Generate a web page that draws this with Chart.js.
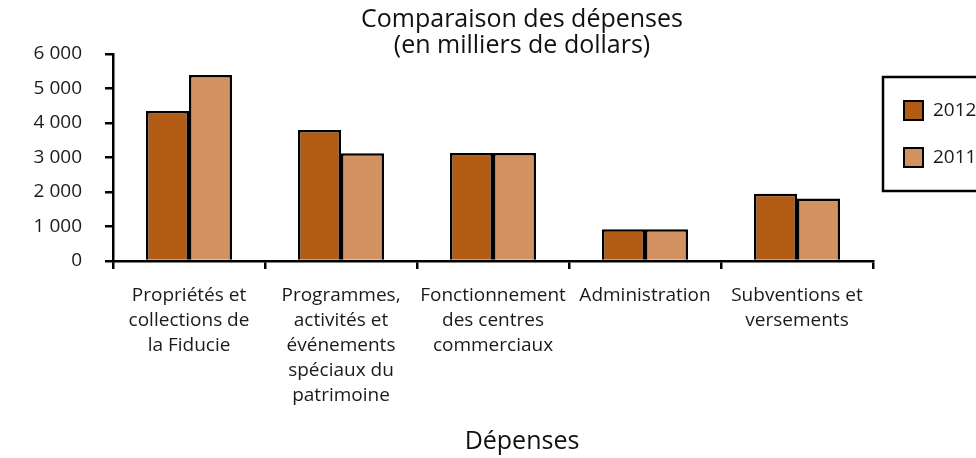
<!DOCTYPE html>
<html>
<head>
<meta charset="utf-8">
<script src="https://cdn.jsdelivr.net/npm/chart.js@4.4.1/dist/chart.umd.min.js"></script>
<style>
  html, body { margin: 0; padding: 0; background: #fff; overflow: hidden; }
  #wrap { width: 976px; height: 458px; overflow: hidden; }
</style>
</head>
<body>
<!-- the canvas is wider than the page: the framed legend runs off the right edge like in the source -->
<div id="wrap"><canvas id="depenses" width="1044" height="458"></canvas></div>
<script>
// data
const categories = [
    ["Propriétés et", "collections de", "la Fiducie"],
    ["Programmes,", "activités et", "événements", "spéciaux du", "patrimoine"],
    ["Fonctionnement", "des centres", "commerciaux"],
    ["Administration"],
    ["Subventions et", "versements"]
];
const years = ["2012", "2011"];
const values2012 = [4350, 3800, 3130, 920, 1950];
const values2011 = [5390, 3120, 3130, 920, 1810];
const yTicks = [0, 1000, 2000, 3000, 4000, 5000, 6000];

const FONT = "'Open Sans', 'DejaVu Sans', sans-serif";
const INK = "#1a1a1a";

const fmt = (v) => String(v).replace(/\B(?=(\d{3})+(?!\d))/g, " ");

// framed legend right of the plot
const boxedLegend = {
    id: "boxedLegend",
    afterDraw(chart) {
        const ctx = chart.ctx;
        const left = chart.chartArea.right + 10;
        const top = 77;
        ctx.save();
        ctx.lineWidth = 2.5;
        ctx.strokeStyle = "#000";
        ctx.strokeRect(left, top, 150, 114);
        ctx.font = "19px " + FONT;
        ctx.textBaseline = "middle";
        chart.data.datasets.forEach((ds, i) => {
            const y = top + 24 + i * 47;
            ctx.fillStyle = ds.backgroundColor;
            ctx.fillRect(left + 21, y, 19, 19);
            ctx.lineWidth = 2;
            ctx.strokeRect(left + 21, y, 19, 19);
            ctx.fillStyle = INK;
            ctx.fillText(ds.label, left + 50, y + 10);
        });
        ctx.restore();
    }
};

const chart = new Chart(document.getElementById("depenses"), {
    type: "bar",
    data: {
        labels: categories,
        datasets: [
            {
                label: years[0],
                data: values2012,
                backgroundColor: "#b15b15",
                borderColor: "#000",
                borderWidth: 2.5
            },
            {
                label: years[1],
                data: values2011,
                backgroundColor: "#d19160",
                borderColor: "#000",
                borderWidth: 2.5
            }
        ]
    },
    options: {
        responsive: false,
        animation: false,
        events: [],
        categoryPercentage: 0.566,
        barPercentage: 1,
        layout: { padding: 0 },
        plugins: {
            legend: { display: false },
            tooltip: { enabled: false },
            title: {
                display: true,
                text: ["Comparaison des dépenses", "(en milliers de dollars)"],
                color: "#111",
                font: { family: FONT, size: 25, weight: "normal", lineHeight: 1.04 },
                padding: { top: 7, bottom: -5 }
            },
            subtitle: {
                display: true,
                position: "bottom",
                text: "Dépenses",
                color: "#111",
                font: { family: FONT, size: 25, weight: "normal", lineHeight: 1.04 },
                padding: { top: 21, bottom: 3 }
            }
        },
        scales: {
            x: {
                afterFit: (s) => { s.height = 147; },
                grid: {
                    offset: true,
                    drawOnChartArea: false,
                    drawTicks: true,
                    tickLength: 8,
                    color: "#000",
                    lineWidth: 2.5
                },
                border: { display: true, color: "#000", width: 2.5 },
                ticks: {
                    color: INK,
                    font: { family: FONT, size: 19, lineHeight: 1.316 },
                    padding: 14,
                    maxRotation: 0,
                    autoSkip: false
                }
            },
            y: {
                min: yTicks[0],
                max: yTicks[yTicks.length - 1],
                afterFit: (s) => { s.width = 113; },
                afterBuildTicks: (s) => { s.ticks = yTicks.map((v) => ({ value: v })); },
                grid: {
                    drawOnChartArea: false,
                    drawTicks: true,
                    tickLength: 8,
                    color: "#000",
                    lineWidth: 2.5
                },
                border: { display: true, color: "#000", width: 2.5 },
                ticks: {
                    color: INK,
                    font: { family: FONT, size: 19 },
                    padding: 23,
                    callback: (v) => fmt(v)
                }
            },
            // empty scale that only reserves room for the legend on the right
            spacer: {
                type: "linear",
                position: "right",
                display: true,
                afterFit: (s) => { s.width = 171; },
                grid: { display: false },
                border: { display: false },
                ticks: { display: false }
            }
        }
    },
    plugins: [boxedLegend]
});
</script>
</body>
</html>
